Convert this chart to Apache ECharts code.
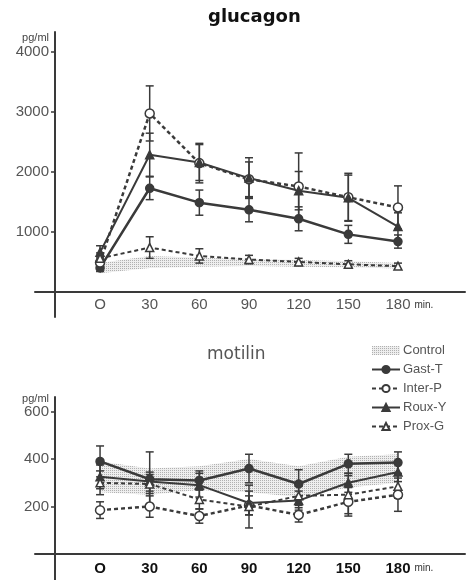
<!DOCTYPE html>
<html>
<head>
<meta charset="utf-8">
<script src="https://cdn.jsdelivr.net/npm/echarts@6/dist/echarts.min.js"></script>
<style>
  html, body { margin: 0; padding: 0; background: #fff; }
  #chart { width: 468px; height: 580px; }
</style>
</head>
<body>
<div id="chart"></div>
<script>
// time points (min)
const TIMES = [0, 30, 60, 90, 120, 150, 180];

// glucagon (pg/ml)
const GLU_GAST_T = [390, 1720, 1480, 1360, 1210, 950, 830];
const GLU_INTER_P = [480, 2970, 2140, 1870, 1750, 1570, 1400];
const GLU_ROUX_Y = [650, 2280, 2150, 1890, 1680, 1560, 1080];
const GLU_PROX_G = [550, 730, 590, 530, 490, 450, 420];
const GLU_GAST_T_SE = [60, 190, 210, 200, 200, 150, 110];
const GLU_INTER_P_SE = [90, 460, 330, 290, 560, 400, 360];
const GLU_ROUX_Y_SE = [110, 360, 300, 340, 320, 380, 230];
const GLU_PROX_G_SE = [90, 180, 120, 70, 60, 60, 50];
const GLU_CONTROL_LOW = [300, 390, 410, 420, 410, 400, 380];
const GLU_CONTROL_HIGH = [470, 590, 560, 540, 520, 500, 470];
const GLU_TICKS = [1000, 2000, 3000, 4000];

// motilin (pg/ml)
const MOT_GAST_T = [390, 315, 310, 360, 295, 380, 385];
const MOT_INTER_P = [185, 200, 160, 205, 165, 220, 250];
const MOT_ROUX_Y = [325, 305, 290, 215, 225, 300, 345];
const MOT_PROX_G = [300, 295, 230, 200, 245, 250, 285];
const MOT_GAST_T_SE = [65, 115, 40, 60, 60, 40, 45];
const MOT_INTER_P_SE = [35, 45, 30, 40, 30, 60, 70];
const MOT_ROUX_Y_SE = [50, 40, 50, 50, 40, 40, 40];
const MOT_PROX_G_SE = [50, 40, 40, 90, 40, 80, 50];
const MOT_CONTROL_LOW = [260, 250, 270, 260, 240, 280, 300];
const MOT_CONTROL_HIGH = [390, 360, 370, 400, 370, 410, 420];
const MOT_TICKS = [200, 400, 600];

var myChart = echarts.init(document.getElementById("chart"));
var INK = "#3a3a3a";

// dotted fill for the control band
var pat = document.createElement("canvas");
pat.width = 2;
pat.height = 2;
var pctx = pat.getContext("2d");
pctx.fillStyle = "#eeeeee";
pctx.fillRect(0, 0, 2, 2);
pctx.fillStyle = "#b0b0b0";
pctx.fillRect(0, 0, 1, 1);
var dotFill = { image: pat, repeat: "repeat" };

var styles = {
  "Gast-T": { symbol: "circle", size: 8, fill: INK, width: 2.5, type: "solid" },
  "Inter-P": { symbol: "circle", size: 9, fill: "#fff", width: 2.5, type: [4, 3] },
  "Roux-Y": { symbol: "triangle", size: 8, fill: INK, width: 2, type: "solid" },
  "Prox-G": { symbol: "triangle", size: 8, fill: "#fff", width: 2, type: [4, 3] },
};

function bandSeries(idx, low, high) {
  return {
    type: "custom",
    name: "Control",
    xAxisIndex: idx,
    yAxisIndex: idx,
    z: 1,
    itemStyle: { color: dotFill },
    renderItem: function (params, api) {
      if (params.dataIndex !== 0) return null;
      var pts = [];
      for (var i = 0; i < TIMES.length; i++) pts.push(api.coord([TIMES[i], high[i]]));
      for (var j = TIMES.length - 1; j >= 0; j--) pts.push(api.coord([TIMES[j], low[j]]));
      return { type: "polygon", shape: { points: pts }, style: { fill: dotFill } };
    },
    data: TIMES.map(function (t, i) { return [t, low[i], high[i]]; }),
  };
}

function errSeries(idx, name, vals, se) {
  return {
    type: "custom",
    name: name + " SE",
    xAxisIndex: idx,
    yAxisIndex: idx,
    z: 2,
    renderItem: function (params, api) {
      var p1 = api.coord([api.value(0), api.value(1)]);
      var p2 = api.coord([api.value(0), api.value(2)]);
      var st = { stroke: INK, lineWidth: 1.5 };
      return {
        type: "group",
        children: [
          { type: "line", shape: { x1: p1[0], y1: p1[1], x2: p2[0], y2: p2[1] }, style: st },
          { type: "line", shape: { x1: p1[0] - 4, y1: p1[1], x2: p1[0] + 4, y2: p1[1] }, style: st },
          { type: "line", shape: { x1: p2[0] - 4, y1: p2[1], x2: p2[0] + 4, y2: p2[1] }, style: st },
        ],
      };
    },
    data: TIMES.map(function (t, i) { return [t, vals[i] - se[i], vals[i] + se[i]]; }),
  };
}

function lineSeries(idx, name, vals) {
  var s = styles[name];
  return {
    type: "line",
    name: name,
    xAxisIndex: idx,
    yAxisIndex: idx,
    z: 3,
    symbol: s.symbol,
    symbolSize: s.size,
    showAllSymbol: true,
    lineStyle: { color: INK, width: s.width, type: s.type },
    itemStyle: { color: s.fill, borderColor: INK, borderWidth: 1.5 },
    data: TIMES.map(function (t, i) { return [t, vals[i]]; }),
  };
}

// labels sit at the grid bottom, the line sits on zero: pull them up with a negative margin
function xAxisFor(idx, bold, labelMargin) {
  return {
    type: "value",
    gridIndex: idx,
    min: -39.3,
    max: 220.5,
    axisLine: { onZero: true, lineStyle: { color: INK, width: 2 } },
    axisTick: { show: false },
    splitLine: { show: false },
    axisLabel: {
      customValues: TIMES,
      margin: labelMargin,
      color: bold ? "#111" : "#555",
      fontWeight: bold ? "bold" : "normal",
      fontSize: 15,
      fontFamily: "Liberation Sans",
      formatter: function (v) { return v === 0 ? "O" : String(v); },
    },
    name: "min.",
    nameLocation: "end",
    nameGap: -53,
    nameTextStyle: {
      align: "left",
      verticalAlign: "top",
      padding: [9, 0, 0, 0],
      fontSize: 10,
      color: "#333",
      fontFamily: "Liberation Sans",
    },
  };
}

function yAxisFor(idx, min, max, ticks) {
  return {
    type: "value",
    gridIndex: idx,
    min: min,
    max: max,
    offset: -20,
    axisLine: { show: true, onZero: false, lineStyle: { color: INK, width: 2 } },
    axisTick: { show: true, length: 4, customValues: ticks, lineStyle: { color: INK, width: 1.5 } },
    splitLine: { show: false },
    axisLabel: {
      customValues: ticks,
      margin: 6,
      color: "#555",
      fontSize: 15,
      fontFamily: "Liberation Sans",
      formatter: function (v) { return String(v); },
    },
    name: "pg/ml",
    nameLocation: "end",
    nameGap: -6,
    nameTextStyle: {
      align: "right",
      verticalAlign: "middle",
      padding: [0, 6, 0, 0],
      fontSize: 11,
      color: "#444",
      fontFamily: "Liberation Sans",
    },
  };
}

var series = [
  bandSeries(0, GLU_CONTROL_LOW, GLU_CONTROL_HIGH),
  errSeries(0, "Gast-T", GLU_GAST_T, GLU_GAST_T_SE),
  errSeries(0, "Inter-P", GLU_INTER_P, GLU_INTER_P_SE),
  errSeries(0, "Roux-Y", GLU_ROUX_Y, GLU_ROUX_Y_SE),
  errSeries(0, "Prox-G", GLU_PROX_G, GLU_PROX_G_SE),
  lineSeries(0, "Gast-T", GLU_GAST_T),
  lineSeries(0, "Inter-P", GLU_INTER_P),
  lineSeries(0, "Roux-Y", GLU_ROUX_Y),
  lineSeries(0, "Prox-G", GLU_PROX_G),
  bandSeries(1, MOT_CONTROL_LOW, MOT_CONTROL_HIGH),
  errSeries(1, "Gast-T", MOT_GAST_T, MOT_GAST_T_SE),
  errSeries(1, "Inter-P", MOT_INTER_P, MOT_INTER_P_SE),
  errSeries(1, "Roux-Y", MOT_ROUX_Y, MOT_ROUX_Y_SE),
  errSeries(1, "Prox-G", MOT_PROX_G, MOT_PROX_G_SE),
  lineSeries(1, "Gast-T", MOT_GAST_T),
  lineSeries(1, "Inter-P", MOT_INTER_P),
  lineSeries(1, "Roux-Y", MOT_ROUX_Y),
  lineSeries(1, "Prox-G", MOT_PROX_G),
];

var option = {
  backgroundColor: "#fff",
  animation: false,
  title: [
    {
      text: "glucagon",
      left: 203,
      top: 3,
      textStyle: { fontSize: 18, fontWeight: "bold", color: "#111", fontFamily: "DejaVu Sans" },
    },
    {
      text: "motilin",
      left: 202,
      top: 341,
      textStyle: { fontSize: 17, fontWeight: "normal", color: "#555", fontFamily: "DejaVu Sans" },
    },
  ],
  legend: {
    orient: "vertical",
    left: 366,
    top: 339,
    itemWidth: 28,
    itemHeight: 9,
    itemGap: 6,
    textStyle: { fontSize: 13, color: "#555", fontFamily: "Liberation Sans", padding: [0, 0, 0, -2] },
    data: [
      { name: "Control", icon: "rect", itemStyle: { color: dotFill } },
      "Gast-T",
      "Inter-P",
      "Roux-Y",
      "Prox-G",
    ],
  },
  grid: [
    { left: 35, right: 3, top: 32, height: 285, outerBoundsMode: "none" },
    { left: 35, right: 3, top: 397, height: 183, outerBoundsMode: "none" },
  ],
  xAxis: [xAxisFor(0, false, -20), xAxisFor(1, true, -19)],
  yAxis: [
    yAxisFor(0, -430, 4330, GLU_TICKS),
    yAxisFor(1, -109, 661, MOT_TICKS),
  ],
  series: series,
};

option && myChart.setOption(option);
</script>
</body>
</html>
